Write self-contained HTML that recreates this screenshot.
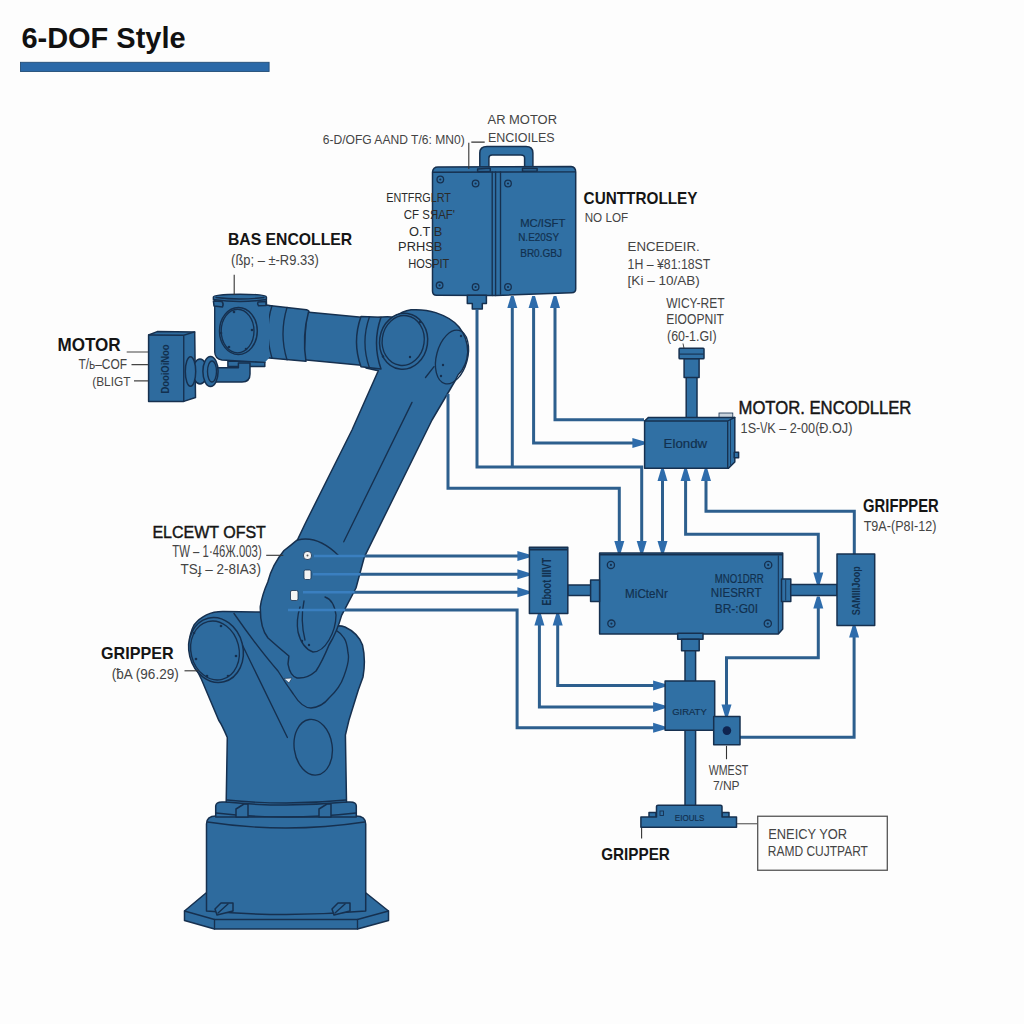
<!DOCTYPE html>
<html><head><meta charset="utf-8"><title>6-DOF Style</title>
<style>
html,body{margin:0;padding:0;background:#fdfdfd;}
body{width:1024px;height:1024px;overflow:hidden;}
svg{display:block;font-family:"Liberation Sans", sans-serif;}
</style></head>
<body>
<svg width="1024" height="1024" viewBox="0 0 1024 1024">
<rect width="1024" height="1024" fill="#fdfdfd"/>
<text x="21.4" y="48.1" font-size="30.14" font-weight="bold" fill="#111" textLength="164.2" lengthAdjust="spacingAndGlyphs" >6-DOF Style</text>
<rect x="20.5" y="62.3" width="248.6" height="9.2" fill="#2b69a8" stroke="#234e78" stroke-width="0.9"/>
<path d="M206,893 L184.5,911 L184.5,920.5 L214.5,929 L357.5,929 L388.5,920.5 L388.5,911 L366,893 Z" fill="#2e6b9e" stroke="#16304f" stroke-width="1.5" stroke-linejoin="round"/>
<path d="M184.5,911 L214.5,919.5 L357.5,919.5 L388.5,911" fill="none" stroke="#16304f" stroke-width="1.35" stroke-linecap="round"/>
<path d="M214.5,919.5 L214.5,929 M357.5,919.5 L357.5,929" fill="none" stroke="#16304f" stroke-width="1.35" stroke-linecap="round"/>
<path d="M206.5,911 L206.5,824 Q206.5,816 216,816 L356,816 Q365.7,816 365.7,824 L365.7,911 Q286,918 206.5,911 Z" fill="#2e6b9e" stroke="#16304f" stroke-width="1.5" stroke-linejoin="round"/>
<path d="M207.5,822 Q286,834 364.5,822" fill="none" stroke="#16304f" stroke-width="1.35" stroke-linecap="round"/>
<path d="M215,909 l6,-6 l12,0 l0,8 l-16,4 Z" fill="#2e6b9e" stroke="#16304f" stroke-width="1.5" stroke-linejoin="round"/>
<path d="M218,913 l10,-9" fill="none" stroke="#16304f" stroke-width="1.35" stroke-linecap="round"/>
<path d="M332,909 l6,-6 l12,0 l0,8 l-16,4 Z" fill="#2e6b9e" stroke="#16304f" stroke-width="1.5" stroke-linejoin="round"/>
<path d="M335,913 l10,-9" fill="none" stroke="#16304f" stroke-width="1.35" stroke-linecap="round"/>
<path d="M215.7,817 L215.7,806 Q216,802 222,802 L350,802 Q356.3,802 356.3,806 L356.3,817 Z" fill="#2e6b9e" stroke="#16304f" stroke-width="1.5" stroke-linejoin="round"/>
<path d="M216,813 Q286,821 356,813" fill="none" stroke="#16304f" stroke-width="1.35" stroke-linecap="round"/>
<path d="M236,817 l0,-8 l8,-5 l4,0 l0,13 Z" fill="#2e6b9e" stroke="#16304f" stroke-width="1.5" stroke-linejoin="round"/>
<path d="M319,817 l0,-8 l8,-5 l4,0 l0,13 Z" fill="#2e6b9e" stroke="#16304f" stroke-width="1.5" stroke-linejoin="round"/>
<path d="M226.2,802 L227.3,737.5 Q222,725 218.7,720.3 L201.5,679.5 L192,660 Q186,640 194,625 Q205,611 224,611.5 L262,612 L300,612 L336.5,626 Q341,625.5 345,627 Q358,633 362.5,645 Q366,660 363,677 L358.3,690 L349,720 L345.4,735 L346.5,802 Q286,808 226.2,802 Z" fill="#2e6b9e" stroke="#16304f" stroke-width="1.5" stroke-linejoin="round"/>
<path d="M227,800 Q286,806 346,800" fill="none" stroke="#16304f" stroke-width="1.35" stroke-linecap="round"/>
<path d="M238,636 L287.4,737.5" fill="none" stroke="#16304f" stroke-width="1.35" stroke-linecap="round"/>
<path d="M234,613.5 Q258,648 278,671 Q286,684 293.3,694 Q302,708 311,708 Q322,707 329,698 Q340,688 344,676 Q350,660 348,653 Q347,642 344,638 Q341,633 336.5,630.6" fill="none" stroke="#16304f" stroke-width="1.35" stroke-linecap="round"/>
<ellipse cx="313.2" cy="747.2" rx="19" ry="28" transform="rotate(-8 313.2 747.2)" fill="none" stroke="#16304f" stroke-width="1.35" stroke-linecap="round"/>
<ellipse cx="216" cy="650" rx="27" ry="32.8" transform="rotate(-14 216 650)" fill="#2e6b9e" stroke="#16304f" stroke-width="1.5" stroke-linejoin="round"/>
<ellipse cx="215" cy="650.5" rx="24" ry="29.8" transform="rotate(-14 215 650.5)" fill="none" stroke="#16304f" stroke-width="1.35" stroke-linecap="round"/>
<circle cx="221.0" cy="626.0" r="1.3" fill="#16304f"/>
<circle cx="194.0" cy="633.0" r="1.3" fill="#16304f"/>
<circle cx="196.0" cy="659.0" r="1.3" fill="#16304f"/>
<circle cx="228.0" cy="676.0" r="1.3" fill="#16304f"/>
<circle cx="236.0" cy="656.0" r="1.3" fill="#16304f"/>
<circle cx="207.0" cy="676.0" r="1.3" fill="#16304f"/>
<path d="M366,368 L366,322 Q380,315 394.7,317.3 Q402,311 411,309.8 Q425,309 435.7,312.6 Q452,318 459,327 Q467.8,338 467.8,352 Q467,366 458,375 L455,381 L432,420 L364.4,556.8 L356,588 L341.6,615.4 Q337,632 329,645 Q322,662 316,671 Q307,679 297,678 Q290,676 288,664 L288.9,656 Q278,647 268,638 Q260,628 260.3,606.6 Q262,595 267.8,582 Q272,565 284,550.5 Q290,546 297.6,539.6 L305,524 L352,430 L378.3,370.7 L366,368 Z" fill="#2e6b9e" stroke="#16304f" stroke-width="1.5" stroke-linejoin="round"/>
<path d="M306.5,311.9 L369.4,318 L369.4,366 L303.75,359.7 Z" fill="#2e6b9e" stroke="#16304f" stroke-width="1.5" stroke-linejoin="round"/>
<path d="M258,304.2 L306.5,309.8 Q310,311 308.5,312 Q302,336 306,361.3 L258,357 Z" fill="#2e6b9e" stroke="#16304f" stroke-width="1.5" stroke-linejoin="round"/>
<path d="M272,305.8 Q264,331 272,358.2 M287,307.5 Q279,334 287,359.9" fill="none" stroke="#16304f" stroke-width="1.35" stroke-linecap="round"/>
<path d="M361,316.5 Q352,342 361,366.8 L381,369 Q372,343 381,317.2 Z" fill="#2e6b9e" stroke="#16304f" stroke-width="1.5" stroke-linejoin="round"/>
<path d="M369.4,317 Q360.5,342 369.4,367.8" fill="none" stroke="#16304f" stroke-width="1.35" stroke-linecap="round"/>
<path d="M297.6,540 Q318,535 339,556" fill="none" stroke="#16304f" stroke-width="1.35" stroke-linecap="round"/>
<path d="M300,607 Q296,620 298,632 Q302,648 313,652 Q322,652 329,640 Q336,628 336,615 Q334,600 325,597" fill="none" stroke="#16304f" stroke-width="1.35" stroke-linecap="round"/>
<path d="M304,601 Q300,620 305,640" fill="none" stroke="#16304f" stroke-width="1.35" stroke-linecap="round"/>
<circle cx="302.0" cy="641.0" r="1.2" fill="#16304f"/>
<circle cx="309.0" cy="645.0" r="1.2" fill="#16304f"/>
<path d="M284,678.5 L292,678 L289,683 Z" fill="#e8eef4" stroke="#16304f" stroke-width="0.6"/>
<path d="M412,402.4 L343.75,541.8" fill="none" stroke="#16304f" stroke-width="1.35" stroke-linecap="round"/>
<ellipse cx="403.6" cy="341.3" rx="24" ry="28" transform="rotate(8 403.6 341.3)" fill="#2e6b9e" stroke="#16304f" stroke-width="1.5" stroke-linejoin="round"/>
<ellipse cx="403.2" cy="340.5" rx="21" ry="25" transform="rotate(8 403.2 340.5)" fill="none" stroke="#16304f" stroke-width="1.35" stroke-linecap="round"/>
<ellipse cx="452" cy="357" rx="15.5" ry="27.5" transform="rotate(15 452 357)" fill="none" stroke="#16304f" stroke-width="1.35" stroke-linecap="round"/>
<path d="M434,366.6 L425.5,377.5" fill="none" stroke="#16304f" stroke-width="1.35" stroke-linecap="round"/>
<circle cx="383.0" cy="356.5" r="1.2" fill="#16304f"/>
<circle cx="410.0" cy="357.0" r="1.2" fill="#16304f"/>
<circle cx="420.0" cy="322.0" r="1.2" fill="#16304f"/>
<circle cx="461.0" cy="336.0" r="1.2" fill="#16304f"/>
<circle cx="441.0" cy="376.0" r="1.2" fill="#16304f"/>
<circle cx="443.0" cy="365.0" r="1.2" fill="#16304f"/>
<path d="M227.9,361 L264.8,362 L264.8,366.4 L227.9,366.4 Z" fill="#2e6b9e" stroke="#16304f" stroke-width="1.5" stroke-linejoin="round"/>
<path d="M214.7,299 L214.7,352 Q215,359 222,360 L264.8,362.4 L269,358 L269,305.5 L266.6,305.2 L266.4,299 Z" fill="#2e6b9e"/>
<path d="M266.4,299.5 L266.6,305.2 L270,305.6" fill="none" stroke="#16304f" stroke-width="1.35" stroke-linecap="round"/>
<path d="M214.7,299 L214.7,352 Q215,359 222,360 L264.8,362.4" fill="none" stroke="#16304f" stroke-width="1.35" stroke-linecap="round"/>
<path d="M213.4,297 Q213.4,294.4 240,294.2 Q266.4,294.4 266.4,297 L266.4,299.5 Q240,303.5 213.4,299.5 Z" fill="#2e6b9e" stroke="#16304f" stroke-width="1.5" stroke-linejoin="round"/>
<path d="M216,297.5 Q240,300.5 264,297.5" fill="none" stroke="#16304f" stroke-width="1.35" stroke-linecap="round"/>
<path d="M213.4,301 L222,301.5 Q224,304 222.5,307 L214,306 Z" fill="#2e6b9e" stroke="#16304f" stroke-width="1.5" stroke-linejoin="round"/>
<path d="M266,301.5 L258,302 Q257,304 258.5,305.7 L266,305.5 Z" fill="#2e6b9e" stroke="#16304f" stroke-width="1.5" stroke-linejoin="round"/>
<ellipse cx="238.4" cy="331" rx="18.9" ry="23.5" fill="#2e6b9e" stroke="#16304f" stroke-width="1.5" stroke-linejoin="round"/>
<ellipse cx="237.6" cy="331" rx="16.4" ry="21.8" fill="none" stroke="#16304f" stroke-width="1.35" stroke-linecap="round"/>
<circle cx="234.0" cy="312.0" r="1.3" fill="#16304f"/>
<circle cx="252.0" cy="330.0" r="1.3" fill="#16304f"/>
<circle cx="246.0" cy="349.0" r="1.3" fill="#16304f"/>
<circle cx="229.0" cy="347.0" r="1.3" fill="#16304f"/>
<circle cx="221.0" cy="333.0" r="1.3" fill="#16304f"/>
<path d="M205,367.8 L238.4,367.8 L238.4,363 L250,363 L250,374 Q250,382 242,382 L205,382 Z" fill="#2e6b9e" stroke="#16304f" stroke-width="1.5" stroke-linejoin="round"/>
<path d="M148.6,335 L157.2,331.6 L194.7,331.9 L195.5,397.5 L183.75,401.4 L148.6,401.4 Z" fill="#2e6b9e" stroke="#16304f" stroke-width="1.5" stroke-linejoin="round"/>
<path d="M148.6,335 L183.75,335.2 L194.7,331.9 M183.75,335.2 L183.75,401.4" fill="none" stroke="#16304f" stroke-width="1.35" stroke-linecap="round"/>
<text x="0" y="0" font-size="10.86" font-weight="bold" fill="#12304f" textLength="49.2" lengthAdjust="spacingAndGlyphs" transform="translate(168.8,393.6) rotate(-90)">DooiOiNoo</text>
<ellipse cx="200" cy="371.5" rx="7" ry="12.5" fill="#2e6b9e" stroke="#16304f" stroke-width="1.5" stroke-linejoin="round"/>
<ellipse cx="190.5" cy="371.5" rx="5.2" ry="14.8" fill="#2e6b9e" stroke="#16304f" stroke-width="1.5" stroke-linejoin="round"/>
<ellipse cx="210.5" cy="371.5" rx="7.6" ry="15" fill="#2e6b9e" stroke="#16304f" stroke-width="1.5" stroke-linejoin="round"/>
<ellipse cx="212" cy="371.5" rx="4.5" ry="10.5" fill="none" stroke="#16304f" stroke-width="1.35" stroke-linecap="round"/>
<path d="M479.8,170 L479.8,153 Q479.8,146.6 487,146.6 L526,146.6 Q532.9,146.6 532.9,153 L532.9,170 L524.6,170 L524.6,158 Q524.6,155 521,155 L492,155 Q488.9,155 488.9,158 L488.9,170 Z" fill="#3070a4" stroke="#16304f" stroke-width="1.5" stroke-linejoin="round"/>
<path d="M432.5,172 Q433,167 438,167 L571,166.5 Q575.7,167 575.7,172 L575.7,289 Q575.7,292.7 571.7,292.7 L496,295.5 L436.5,295.2 Q432.5,295.2 432.5,291 Z" fill="#3070a4" stroke="#16304f" stroke-width="1.5" stroke-linejoin="round"/>
<path d="M433,172.2 L575.3,171.8" fill="none" stroke="#16304f" stroke-width="1.35" stroke-linecap="round"/>
<path d="M477.6,171.5 L477.6,169 L490.3,168.3 L490.3,171.3 Z M522.5,171.3 L522.5,168.3 L537.1,168.6 L537.1,171.1 Z" fill="#3070a4" stroke="#16304f" stroke-width="1.5" stroke-linejoin="round"/>
<path d="M492.2,172 L492.2,295.5 M495.6,172 L495.6,295.5 M500.5,172 L500.5,294" fill="none" stroke="#16304f" stroke-width="1.35" stroke-linecap="round"/>
<circle cx="440.3" cy="179.5" r="3.3" fill="none" stroke="#16304f" stroke-width="1.3"/>
<circle cx="440.3" cy="179.5" r="1.1" fill="#16304f"/>
<circle cx="475.6" cy="183.5" r="3.3" fill="none" stroke="#16304f" stroke-width="1.3"/>
<circle cx="475.6" cy="183.5" r="1.1" fill="#16304f"/>
<circle cx="508.0" cy="183.5" r="3.3" fill="none" stroke="#16304f" stroke-width="1.3"/>
<circle cx="508.0" cy="183.5" r="1.1" fill="#16304f"/>
<circle cx="439.6" cy="285.3" r="3.3" fill="none" stroke="#16304f" stroke-width="1.3"/>
<circle cx="439.6" cy="285.3" r="1.1" fill="#16304f"/>
<circle cx="475.6" cy="287.0" r="3.3" fill="none" stroke="#16304f" stroke-width="1.3"/>
<circle cx="475.6" cy="287.0" r="1.1" fill="#16304f"/>
<circle cx="508.0" cy="287.0" r="3.3" fill="none" stroke="#16304f" stroke-width="1.3"/>
<circle cx="508.0" cy="287.0" r="1.1" fill="#16304f"/>
<text x="520.2" y="226.7" font-size="11.14" font-weight="normal" fill="#12304f" stroke="#12304f" stroke-width="0.2" textLength="45.1" lengthAdjust="spacingAndGlyphs" >MC/ISFT</text>
<text x="518.2" y="241.4" font-size="11.14" font-weight="normal" fill="#12304f" stroke="#12304f" stroke-width="0.2" textLength="40.9" lengthAdjust="spacingAndGlyphs" >N.E20SY</text>
<text x="520.2" y="257.2" font-size="11.29" font-weight="normal" fill="#12304f" stroke="#12304f" stroke-width="0.2" textLength="41.8" lengthAdjust="spacingAndGlyphs" >BR0.GBJ</text>
<path d="M467.3,295.2 L486.4,295.2 L486.4,303.5 L482.3,303.5 L482.3,309 L472.3,309 L472.3,303.5 L467.3,303.5 Z" fill="#3070a4" stroke="#16304f" stroke-width="1.5" stroke-linejoin="round"/>
<polyline points="477.0,309.0 477.0,467.0 641.7,467.0 641.7,545.0" fill="none" stroke="#2d5f8e" stroke-width="3" stroke-linejoin="miter"/>
<polygon points="640.3,553.0 643.1,553.0 646.7,541.0 636.7,541.0" fill="#2e6cab"/>
<polyline points="512.3,467.0 512.3,306.0" fill="none" stroke="#2d5f8e" stroke-width="3" stroke-linejoin="miter"/>
<polygon points="510.9,296.0 513.7,296.0 517.3,308.0 507.3,308.0" fill="#2e6cab"/>
<polyline points="533.6,306.0 533.6,443.0 634.0,443.0" fill="none" stroke="#2d5f8e" stroke-width="3" stroke-linejoin="miter"/>
<polygon points="532.2,296.0 535.0,296.0 538.6,308.0 528.6,308.0" fill="#2e6cab"/>
<polygon points="644.4,441.6 644.4,444.4 632.4,448.0 632.4,438.0" fill="#2e6cab"/>
<polyline points="555.0,306.0 555.0,419.7 644.0,419.7" fill="none" stroke="#2d5f8e" stroke-width="3" stroke-linejoin="miter"/>
<polygon points="553.6,296.0 556.4,296.0 560.0,308.0 550.0,308.0" fill="#2e6cab"/>
<polyline points="448.0,394.0 448.0,488.3 619.3,488.3 619.3,545.0" fill="none" stroke="#2d5f8e" stroke-width="3" stroke-linejoin="miter"/>
<polygon points="617.9,553.0 620.7,553.0 624.3,541.0 614.3,541.0" fill="#2e6cab"/>
<polyline points="662.5,479.0 662.5,543.0" fill="none" stroke="#2d5f8e" stroke-width="3" stroke-linejoin="miter"/>
<polygon points="661.1,469.0 663.9,469.0 667.5,481.0 657.5,481.0" fill="#2e6cab"/>
<polygon points="661.1,553.0 663.9,553.0 667.5,541.0 657.5,541.0" fill="#2e6cab"/>
<polyline points="685.6,479.0 685.6,534.3 818.3,534.3 818.3,574.0" fill="none" stroke="#2d5f8e" stroke-width="3" stroke-linejoin="miter"/>
<polygon points="684.2,469.0 687.0,469.0 690.6,481.0 680.6,481.0" fill="#2e6cab"/>
<polygon points="816.9,584.6 819.7,584.6 823.3,572.6 813.3,572.6" fill="#2e6cab"/>
<polyline points="706.0,479.0 706.0,511.2 854.3,511.2 854.3,554.3" fill="none" stroke="#2d5f8e" stroke-width="3" stroke-linejoin="miter"/>
<polygon points="704.6,469.0 707.4,469.0 711.0,481.0 701.0,481.0" fill="#2e6cab"/>
<polyline points="364.0,556.0 520.0,556.0" fill="none" stroke="#2d5f8e" stroke-width="3" stroke-linejoin="miter"/>
<polygon points="529.4,554.6 529.4,557.4 517.4,561.0 517.4,551.0" fill="#2e6cab"/>
<polyline points="360.0,574.3 520.0,574.3" fill="none" stroke="#2d5f8e" stroke-width="3" stroke-linejoin="miter"/>
<polygon points="529.4,572.9 529.4,575.7 517.4,579.3 517.4,569.3" fill="#2e6cab"/>
<polyline points="354.0,592.3 520.0,592.3" fill="none" stroke="#2d5f8e" stroke-width="3" stroke-linejoin="miter"/>
<polygon points="529.4,590.9 529.4,593.7 517.4,597.3 517.4,587.3" fill="#2e6cab"/>
<polyline points="344.5,610.0 517.1,610.0 517.1,727.8 655.0,727.8" fill="none" stroke="#2d5f8e" stroke-width="3" stroke-linejoin="miter"/>
<polygon points="665.1,726.4 665.1,729.2 653.1,732.8 653.1,722.8" fill="#2e6cab"/>
<polyline points="314.0,556.0 364.5,556.0" fill="none" stroke="#3a7fc0" stroke-width="2.6" stroke-linejoin="miter"/>
<polyline points="313.0,574.3 360.5,574.3" fill="none" stroke="#3a7fc0" stroke-width="2.6" stroke-linejoin="miter"/>
<polyline points="303.0,592.3 354.5,592.3" fill="none" stroke="#3a7fc0" stroke-width="2.6" stroke-linejoin="miter"/>
<polyline points="288.0,610.0 345.0,610.0" fill="none" stroke="#3a7fc0" stroke-width="2.6" stroke-linejoin="miter"/>
<polyline points="539.4,623.0 539.4,706.9 655.0,706.9" fill="none" stroke="#2d5f8e" stroke-width="3" stroke-linejoin="miter"/>
<polygon points="538.0,613.4 540.8,613.4 544.4,625.4 534.4,625.4" fill="#2e6cab"/>
<polygon points="665.1,705.5 665.1,708.3 653.1,711.9 653.1,701.9" fill="#2e6cab"/>
<polyline points="557.7,623.0 557.7,685.4 655.0,685.4" fill="none" stroke="#2d5f8e" stroke-width="3" stroke-linejoin="miter"/>
<polygon points="556.3,613.4 559.1,613.4 562.7,625.4 552.7,625.4" fill="#2e6cab"/>
<polygon points="665.1,684.0 665.1,686.8 653.1,690.4 653.1,680.4" fill="#2e6cab"/>
<polyline points="818.3,606.0 818.3,657.8 726.5,657.8 726.5,706.0" fill="none" stroke="#2d5f8e" stroke-width="3" stroke-linejoin="miter"/>
<polygon points="816.9,596.4 819.7,596.4 823.3,608.4 813.3,608.4" fill="#2e6cab"/>
<polygon points="725.1,716.4 727.9,716.4 731.5,704.4 721.5,704.4" fill="#2e6cab"/>
<polyline points="740.0,737.3 854.1,737.3 854.1,635.0" fill="none" stroke="#2d5f8e" stroke-width="3" stroke-linejoin="miter"/>
<polygon points="852.7,625.4 855.5,625.4 859.1,637.4 849.1,637.4" fill="#2e6cab"/>
<rect x="686.2" y="376" width="10.8" height="43" fill="#3070a4" stroke="#16304f" stroke-width="1.5" stroke-linejoin="round"/>
<rect x="684.1" y="358.5" width="15" height="19" fill="#3070a4" stroke="#16304f" stroke-width="1.5" stroke-linejoin="round"/>
<rect x="679.1" y="348.3" width="24.9" height="10.4" rx="0.8" fill="#3070a4" stroke="#16304f" stroke-width="1.5" stroke-linejoin="round"/>
<path d="M679.5,354.1 L703.6,354.1" stroke="#16304f" stroke-width="1.1"/>
<path d="M683,343.5 L684,348.3" stroke="#333" stroke-width="0.9"/>
<rect x="719" y="413" width="13.8" height="5.5" fill="#c9d3dc" stroke="#16304f" stroke-width="0.8"/>
<path d="M644.6,421 L648.5,417.4 L734.8,417.4 L734.8,462 L728.5,468.2 L644.6,468.2 Z" fill="#3070a4" stroke="#16304f" stroke-width="1.5" stroke-linejoin="round"/>
<path d="M644.6,421 L727.7,421 L727.7,468.2 M727.7,421 L734.8,417.4" fill="none" stroke="#16304f" stroke-width="1.35" stroke-linecap="round"/>
<path d="M730.5,420 L730.5,465" stroke="#16304f" stroke-width="0.8"/>
<rect x="734.2" y="452.3" width="4.4" height="5.4" fill="#3070a4" stroke="#16304f" stroke-width="1.5" stroke-linejoin="round"/>
<text x="663.6" y="448.4" font-size="12.57" font-weight="normal" fill="#12304f" stroke="#12304f" stroke-width="0.2" textLength="43.5" lengthAdjust="spacingAndGlyphs" >Elondw</text>
<path d="M599.6,553 L782.7,553 L782.7,629 L778.3,634 L599.6,634 Z" fill="#3070a4" stroke="#16304f" stroke-width="1.5" stroke-linejoin="round"/>
<path d="M600,554.8 L782,554.8" stroke="#16304f" stroke-width="1.6"/>
<path d="M778.3,555.5 L778.3,633.5" stroke="#16304f" stroke-width="1"/>
<circle cx="610.9" cy="564.9" r="3.6" fill="none" stroke="#16304f" stroke-width="1.3"/>
<circle cx="610.9" cy="564.9" r="1.1" fill="#16304f"/>
<circle cx="768.2" cy="564.9" r="3.6" fill="none" stroke="#16304f" stroke-width="1.3"/>
<circle cx="768.2" cy="564.9" r="1.1" fill="#16304f"/>
<circle cx="611.4" cy="623.6" r="3.6" fill="none" stroke="#16304f" stroke-width="1.3"/>
<circle cx="611.4" cy="623.6" r="1.1" fill="#16304f"/>
<circle cx="767.8" cy="623.6" r="3.6" fill="none" stroke="#16304f" stroke-width="1.3"/>
<circle cx="767.8" cy="623.6" r="1.1" fill="#16304f"/>
<text x="625.1" y="597.8" font-size="11.86" font-weight="normal" fill="#12304f" stroke="#12304f" stroke-width="0.2" textLength="42.7" lengthAdjust="spacingAndGlyphs" >MiCteNr</text>
<text x="714.8" y="582.5" font-size="12.14" font-weight="normal" fill="#12304f" stroke="#12304f" stroke-width="0.2" textLength="48.9" lengthAdjust="spacingAndGlyphs" >MNO1DRR</text>
<text x="710.8" y="597.3" font-size="12.86" font-weight="normal" fill="#12304f" stroke="#12304f" stroke-width="0.2" textLength="50.7" lengthAdjust="spacingAndGlyphs" >NIESRRT</text>
<text x="714.7" y="612.7" font-size="12.86" font-weight="normal" fill="#12304f" stroke="#12304f" stroke-width="0.2" textLength="43.3" lengthAdjust="spacingAndGlyphs" >BR-:G0I</text>
<rect x="781.5" y="578.9" width="9.3" height="22.7" fill="#3070a4" stroke="#16304f" stroke-width="1.5" stroke-linejoin="round"/>
<path d="M785.7,580 L785.7,600.5" stroke="#16304f" stroke-width="0.9"/>
<rect x="790.7" y="584.6" width="46.3" height="11" fill="#3070a4" stroke="#16304f" stroke-width="1.5" stroke-linejoin="round"/>
<rect x="567.8" y="585" width="23" height="10.5" fill="#3070a4" stroke="#16304f" stroke-width="1.5" stroke-linejoin="round"/>
<rect x="590.6" y="580" width="9" height="21.4" fill="#3070a4" stroke="#16304f" stroke-width="1.5" stroke-linejoin="round"/>
<rect x="529.4" y="547.2" width="38.4" height="66.2" fill="#3070a4" stroke="#16304f" stroke-width="1.5" stroke-linejoin="round"/>
<path d="M530,549.6 L567.2,549.6" stroke="#16304f" stroke-width="2"/>
<text x="0" y="0" font-size="12.00" font-weight="bold" fill="#12304f" textLength="47.6" lengthAdjust="spacingAndGlyphs" transform="translate(550.8,605.6) rotate(-90)">Eboot IIIVT</text>
<rect x="837" y="554" width="37.7" height="71.4" fill="#3070a4" stroke="#16304f" stroke-width="1.5" stroke-linejoin="round"/>
<text x="0" y="0" font-size="11.14" font-weight="bold" fill="#12304f" textLength="48.9" lengthAdjust="spacingAndGlyphs" transform="translate(859.9,615.2) rotate(-90)">SAMIIIJoop</text>
<rect x="677.7" y="633.3" width="25.3" height="6" fill="#3070a4" stroke="#16304f" stroke-width="1.5" stroke-linejoin="round"/>
<rect x="681.6" y="639.3" width="17.6" height="11.5" fill="#3070a4" stroke="#16304f" stroke-width="1.5" stroke-linejoin="round"/>
<rect x="685" y="650.8" width="10.6" height="155" fill="#3070a4" stroke="#16304f" stroke-width="1.5" stroke-linejoin="round"/>
<rect x="665.1" y="680.9" width="49.6" height="49.3" fill="#3070a4" stroke="#16304f" stroke-width="1.5" stroke-linejoin="round"/>
<text x="672.2" y="714.7" font-size="9.57" font-weight="normal" fill="#12304f" stroke="#12304f" stroke-width="0.2" textLength="34.5" lengthAdjust="spacingAndGlyphs" >GIRATY</text>
<rect x="713.7" y="716.5" width="26.3" height="28.3" fill="#3070a4" stroke="#16304f" stroke-width="1.5" stroke-linejoin="round"/>
<circle cx="726.9" cy="730.6" r="4.3" fill="#0f2450"/>
<path d="M726.5,745.8 L726.5,759.2" stroke="#333" stroke-width="1.1"/>
<path d="M649,817.5 l0,-5 l7,0 l0,5 Z M722,817.5 l0,-5 l7,0 l0,5 Z" fill="#3070a4" stroke="#16304f" stroke-width="1.5" stroke-linejoin="round"/>
<path d="M640.9,817 L656.5,817 L656.5,806.5 Q656.5,805.2 658,805.2 L720.5,805.2 Q722,805.2 722,806.5 L722,817 L736.5,817 L736.5,827.3 L640.9,827.3 Z" fill="#3070a4" stroke="#16304f" stroke-width="1.5" stroke-linejoin="round"/>
<rect x="660" y="811" width="3.5" height="4.5" fill="none" stroke="#16304f" stroke-width="0.9"/>
<text x="674.8" y="820.8" font-size="8.43" font-weight="normal" fill="#12304f" stroke="#12304f" stroke-width="0.2" textLength="29.5" lengthAdjust="spacingAndGlyphs" >EIOULS</text>
<path d="M641.6,828 L641.6,838.6" stroke="#333" stroke-width="1.1"/>
<path d="M737,823.75 L757.7,823.75" stroke="#555" stroke-width="1.1"/>
<rect x="757.7" y="816.25" width="129.6" height="54" fill="#fdfdfd" stroke="#555" stroke-width="1.3"/>
<text x="322.7" y="144.1" font-size="13.29" font-weight="normal" fill="#444444" textLength="142.0" lengthAdjust="spacingAndGlyphs" >6-D/OFG AAND T/6: MN0)</text>
<path d="M471.3,142.1 L484.7,142.1 M468.8,142.8 L468.8,169" stroke="#333" stroke-width="1.1"/>
<text x="487.5" y="124.0" font-size="13.29" font-weight="normal" fill="#444444" textLength="69.5" lengthAdjust="spacingAndGlyphs" >AR MOTOR</text>
<text x="488.0" y="141.6" font-size="13.29" font-weight="normal" fill="#444444" textLength="66.6" lengthAdjust="spacingAndGlyphs" >ENCIOILES</text>
<text x="386.2" y="202.1" font-size="12.57" font-weight="normal" fill="#2a2a2a" textLength="64.8" lengthAdjust="spacingAndGlyphs" >ENTFRGLRT</text>
<text x="403.8" y="218.8" font-size="12.57" font-weight="normal" fill="#2a2a2a" textLength="51.2" lengthAdjust="spacingAndGlyphs" >CF SЯAF'</text>
<text x="409.1" y="235.5" font-size="13.14" font-weight="normal" fill="#2a2a2a" textLength="33.2" lengthAdjust="spacingAndGlyphs" >O.T B</text>
<text x="398.1" y="251.4" font-size="13.29" font-weight="normal" fill="#2a2a2a" textLength="44.2" lengthAdjust="spacingAndGlyphs" >PRHSB</text>
<text x="408.2" y="268.1" font-size="13.29" font-weight="normal" fill="#2a2a2a" textLength="41.2" lengthAdjust="spacingAndGlyphs" >HOSPIT</text>
<text x="583.6" y="203.6" font-size="15.86" font-weight="bold" fill="#151515" textLength="113.9" lengthAdjust="spacingAndGlyphs" >CUNTTROLLEY</text>
<text x="584.7" y="222.3" font-size="11.86" font-weight="normal" fill="#444444" textLength="43.4" lengthAdjust="spacingAndGlyphs" >NO LOF</text>
<text x="627.6" y="251.4" font-size="13.00" font-weight="normal" fill="#444444" textLength="72.2" lengthAdjust="spacingAndGlyphs" >ENCEDEIR.</text>
<text x="627.6" y="268.6" font-size="13.86" font-weight="normal" fill="#444444" textLength="82.7" lengthAdjust="spacingAndGlyphs" >1H – ¥81:18ST</text>
<text x="627.6" y="284.5" font-size="13.57" font-weight="normal" fill="#444444" textLength="72.2" lengthAdjust="spacingAndGlyphs" >[Ki – 10/AB)</text>
<text x="666.2" y="307.7" font-size="13.86" font-weight="normal" fill="#444444" textLength="58.4" lengthAdjust="spacingAndGlyphs" >WICY-RET</text>
<text x="666.2" y="324.3" font-size="14.00" font-weight="normal" fill="#444444" textLength="57.7" lengthAdjust="spacingAndGlyphs" >EIOOPNIT</text>
<text x="667.0" y="340.5" font-size="14.00" font-weight="normal" fill="#444444" textLength="49.6" lengthAdjust="spacingAndGlyphs" >(60-1.GI)</text>
<text x="738.5" y="413.6" font-size="17.71" font-weight="normal" fill="#151515" stroke="#151515" stroke-width="0.45" textLength="172.9" lengthAdjust="spacingAndGlyphs" >MOTOR. ENCODLLER</text>
<text x="740.6" y="433.0" font-size="15.00" font-weight="normal" fill="#444444" textLength="111.8" lengthAdjust="spacingAndGlyphs" >1S-\/K – 2-00(Ð.OJ)</text>
<text x="863.1" y="511.6" font-size="17.57" font-weight="bold" fill="#151515" textLength="75.7" lengthAdjust="spacingAndGlyphs" >GRIFPPER</text>
<text x="863.7" y="531.0" font-size="15.00" font-weight="normal" fill="#444444" textLength="72.7" lengthAdjust="spacingAndGlyphs" >T9A-(P8I-12)</text>
<text x="227.9" y="245.0" font-size="16.71" font-weight="bold" fill="#151515" textLength="124.3" lengthAdjust="spacingAndGlyphs" >BAS ENCOLLER</text>
<text x="231.1" y="264.5" font-size="14.00" font-weight="normal" fill="#444444" textLength="87.6" lengthAdjust="spacingAndGlyphs" >(ßp; – ±-R9.33)</text>
<path d="M234.2,274.7 L234.2,295" stroke="#333" stroke-width="1.1"/>
<text x="57.4" y="350.7" font-size="17.71" font-weight="bold" fill="#151515" textLength="63.3" lengthAdjust="spacingAndGlyphs" >MOTOR</text>
<text x="78.4" y="369.1" font-size="14.29" font-weight="normal" fill="#444444" textLength="48.6" lengthAdjust="spacingAndGlyphs" >T/ь–COF</text>
<text x="92.2" y="386.2" font-size="13.29" font-weight="normal" fill="#444444" textLength="38.2" lengthAdjust="spacingAndGlyphs" >(BLIGT</text>
<path d="M126.7,352 L148.1,352 M131.5,364.7 L148.1,364.7 M134,380.8 L148.1,380.8" stroke="#444" stroke-width="1.2"/>
<text x="152.4" y="537.5" font-size="17.14" font-weight="normal" fill="#151515" stroke="#151515" stroke-width="0.45" textLength="113.5" lengthAdjust="spacingAndGlyphs" >ELCEWT OFST</text>
<text x="172.3" y="556.9" font-size="15.57" font-weight="normal" fill="#444444" textLength="89.4" lengthAdjust="spacingAndGlyphs" >TW – 1·46Ж.003)</text>
<text x="180.5" y="574.0" font-size="14.64" font-weight="normal" fill="#444444" textLength="80.4" lengthAdjust="spacingAndGlyphs" >TSɟ – 2-8IA3)</text>
<path d="M266.2,555.3 L283.3,555.3" stroke="#333" stroke-width="1.1"/>
<text x="101.0" y="659.4" font-size="16.57" font-weight="bold" fill="#151515" textLength="72.6" lengthAdjust="spacingAndGlyphs" >GRIPPER</text>
<text x="111.7" y="678.5" font-size="14.29" font-weight="normal" fill="#444444" textLength="67.1" lengthAdjust="spacingAndGlyphs" >(ƀA (96.29)</text>
<path d="M184.5,670.8 L198.5,670.8" stroke="#333" stroke-width="1.1"/>
<text x="708.7" y="774.5" font-size="14.00" font-weight="normal" fill="#444444" textLength="39.5" lengthAdjust="spacingAndGlyphs" >WMEST</text>
<text x="712.9" y="790.4" font-size="13.14" font-weight="normal" fill="#444444" textLength="26.7" lengthAdjust="spacingAndGlyphs" >7/NP</text>
<text x="601.2" y="860.2" font-size="16.71" font-weight="bold" fill="#151515" textLength="68.7" lengthAdjust="spacingAndGlyphs" >GRIPPER</text>
<text x="768.2" y="839.0" font-size="14.00" font-weight="normal" fill="#444444" textLength="78.9" lengthAdjust="spacingAndGlyphs" >ENEICY YOR</text>
<text x="767.8" y="855.8" font-size="14.00" font-weight="normal" fill="#444444" textLength="100.1" lengthAdjust="spacingAndGlyphs" >RAMD CUJTPART</text>
<rect x="303.5" y="551.5" width="8" height="8" rx="3.5" fill="#f4f4f4" stroke="#16304f" stroke-width="0.8"/>
<circle cx="307.5" cy="555.5" r="1" fill="#555"/>
<rect x="304" y="570" width="7" height="9.5" rx="1.5" fill="#f4f4f4" stroke="#16304f" stroke-width="0.8"/>
<rect x="290.5" y="590.5" width="7.5" height="10" rx="1.5" fill="#f4f4f4" stroke="#16304f" stroke-width="0.8"/>
</svg>
</body></html>
